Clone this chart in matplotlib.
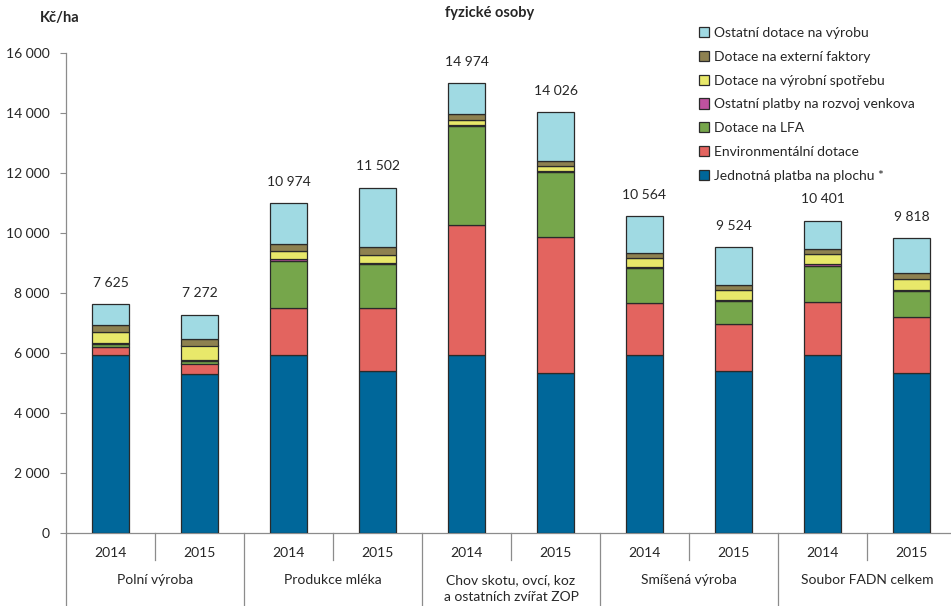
import matplotlib
matplotlib.use("Agg")
import matplotlib.pyplot as plt
from matplotlib.ticker import FuncFormatter, MultipleLocator
from matplotlib.transforms import blended_transform_factory
from matplotlib.patches import Patch
import numpy as np

plt.rcParams["font.family"] = ["Lato", "DejaVu Sans"]

groups = ["Polní výroba", "Produkce mléka", "Chov skotu, ovcí, koz\na ostatních zvířat ZOP",
          "Smíšená výroba", "Soubor FADN celkem"]
years = ["2014", "2015"]

# Kč/ha per bar (2014, 2015 for each group), bottom to top of the stack
jednotna = [5920, 5280, 5940, 5380, 5920, 5310, 5920, 5390, 5920, 5320]
environ = [260, 360, 1565, 2110, 4320, 4530, 1720, 1570, 1760, 1870]
lfa = [110, 90, 1545, 1450, 3300, 2170, 1170, 750, 1220, 860]
rozvoj = [20, 40, 60, 50, 50, 50, 40, 40, 50, 50]
spotreba = [385, 470, 290, 260, 180, 170, 320, 330, 330, 340]
externi = [220, 210, 235, 270, 170, 160, 155, 165, 180, 200]
totals = [7625, 7272, 10974, 11502, 14974, 14026, 10564, 9524, 10401, 9818]
ostatni = [t - (a + b + c + d + e + f) for t, a, b, c, d, e, f in
           zip(totals, jednotna, environ, lfa, rozvoj, spotreba, externi)]

series = [
    ("Jednotná platba na plochu *", jednotna, "#00679A"),
    ("Environmentální dotace", environ, "#E3645F"),
    ("Dotace na LFA", lfa, "#76A64B"),
    ("Ostatní platby na rozvoj venkova", rozvoj, "#C0529F"),
    ("Dotace na výrobní spotřebu", spotreba, "#E8E86A"),
    ("Dotace na externí faktory", externi, "#8E8150"),
    ("Ostatní dotace na výrobu", ostatni, "#A0DAE3"),
]

W, H = 951, 606
fig = plt.figure(figsize=(W / 100, H / 100), dpi=100)
ax_left, ax_right, ax_bottom, ax_top = 66, 956, 532.7, 52.7
ax = fig.add_axes([ax_left / W, 1 - ax_bottom / H, (ax_right - ax_left) / W, (ax_bottom - ax_top) / H])

x = np.arange(len(totals))
bottom = np.zeros(len(totals))
edge = "#2a2a2a"
for name, vals, col in series:
    vals = np.array(vals, dtype=float)
    ax.bar(x, vals, bottom=bottom, width=0.41, color=col, edgecolor=edge, linewidth=0.9, label=name, zorder=3)
    bottom += vals

for xi, t in zip(x, totals):
    ax.annotate(f"{t:,}".replace(",", " "), (xi, t), xytext=(0, 11), textcoords="offset points",
                ha="center", va="bottom", fontsize=10, color="#262626")

ax.set_xlim(-0.5, len(totals) - 0.5)
ax.set_ylim(0, 16000)
ax.yaxis.set_major_locator(MultipleLocator(2000))
ax.yaxis.set_major_formatter(FuncFormatter(lambda v, p: f"{int(v):,}".replace(",", " ")))
ax.tick_params(axis="y", labelsize=10, colors="#262626", length=4, width=0.8, pad=8)
ax.tick_params(axis="y", color="#8c8c8c")
ax.set_xticks([])
for s in ["top", "right"]:
    ax.spines[s].set_visible(False)
for s in ["left", "bottom"]:
    ax.spines[s].set_color("#8c8c8c")
    ax.spines[s].set_linewidth(0.9)

# two-level category axis below the plot
tr = blended_transform_factory(ax.transData, ax.transAxes)
px = 1 / (ax_bottom - ax_top)
fig_bottom = -(H - ax_bottom) * px
for k in range(len(groups) + 1):
    ax.plot([2 * k - 0.5] * 2, [0, fig_bottom], transform=tr, color="#8c8c8c", lw=0.9, clip_on=False)
for k in range(len(groups)):
    ax.plot([2 * k + 0.5] * 2, [0, -(560 - ax_bottom) * px], transform=tr, color="#8c8c8c", lw=0.9,
            clip_on=False)
    for j, yr in enumerate(years):
        ax.text(2 * k + j, -(553 - ax_bottom) * px, yr, transform=tr, ha="center", va="center",
                fontsize=10, color="#262626")
    ax.text(2 * k + 0.5, -(574 - ax_bottom) * px, groups[k], transform=tr, ha="center", va="top",
            fontsize=10, color="#262626", linespacing=1.5)

fig.text(60 / W, 1 - 18 / H, "Kč/ha", ha="center", va="center", fontsize=10.5, fontweight="bold",
         color="#262626")
fig.text(490 / W, 1 - 13 / H, "fyzické osoby", ha="center", va="center", fontsize=10.5,
         fontweight="bold", color="#262626")

handles = [Patch(facecolor=c, edgecolor=edge, linewidth=0.9, label=n) for n, _, c in reversed(series)]
fig.legend(handles=handles, loc="upper left", bbox_to_anchor=(699 / W, 1 - 27 / H), frameon=False,
           fontsize=10, handlelength=0.75, handleheight=0.75, handletextpad=0.3, labelspacing=0.85,
           borderaxespad=0, borderpad=0, labelcolor="#262626")

fig.savefig("out.png", dpi=100)
